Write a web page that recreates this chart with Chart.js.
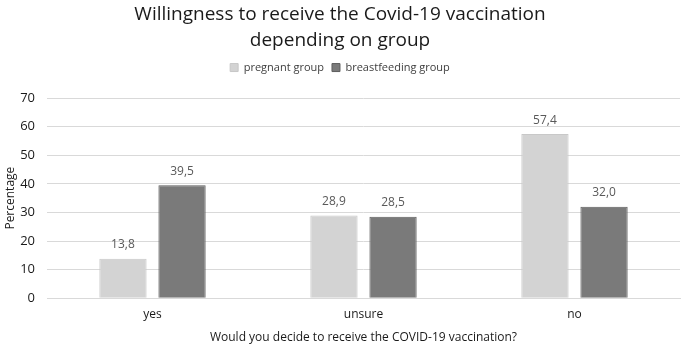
<!DOCTYPE html>
<html lang="en">
<head>
    <meta charset="UTF-8">
    <title>Willingness to receive the Covid-19 vaccination</title>
    <script src="https://cdn.jsdelivr.net/npm/chart.js"></script>
    <style>
        html, body { margin: 0; padding: 0; background: #fff; }
        #wrap { width: 685px; height: 348px; }
    </style>
</head>
<body>
    <div id="wrap"><canvas id="chart"></canvas></div>

    <script>
        // chart data
        const categories = ['yes', 'unsure', 'no'];
        const pregnant = [13.8, 28.9, 57.4];
        const breastfeeding = [39.5, 28.5, 32.0];
        const yTicks = [0, 10, 20, 30, 40, 50, 60, 70];

        const font = "'Open Sans', 'Noto Sans', sans-serif";

        // draws the value above each bar, with a comma as decimal mark
        const valueLabels = {
            id: 'valueLabels',
            afterDatasetsDraw(chart) {
                const ctx = chart.ctx;
                ctx.save();
                ctx.font = '12px ' + font;
                ctx.fillStyle = '#595959';
                ctx.textAlign = 'center';
                ctx.textBaseline = 'bottom';
                chart.data.datasets.forEach((ds, i) => {
                    chart.getDatasetMeta(i).data.forEach((bar, j) => {
                        const txt = ds.data[j].toFixed(1).replace('.', ',');
                        ctx.fillText(txt, bar.x, bar.y - 8);
                    });
                });
                ctx.restore();
            }
        };

        // extra room under the legend
        const legendGap = {
            id: 'legendGap',
            beforeInit(chart) {
                const fit = chart.legend.fit;
                chart.legend.fit = function () {
                    fit.bind(this)();
                    this.height += 15;
                };
            }
        };

        new Chart(document.getElementById('chart'), {
            type: 'bar',
            data: {
                labels: categories,
                datasets: [{
                    label: 'pregnant group',
                    data: pregnant,
                    backgroundColor: '#d3d3d3',
                    borderColor: '#c8c8c8',
                    borderWidth: 1
                }, {
                    label: 'breastfeeding group',
                    data: breastfeeding,
                    backgroundColor: '#7a7a7a',
                    borderColor: '#5e5e5e',
                    borderWidth: 1
                }]
            },
            options: {
                responsive: true,
                maintainAspectRatio: false,
                animation: false,
                categoryPercentage: 0.56,
                barPercentage: 0.8,
                layout: { padding: { left: 0, right: 5, top: 0, bottom: 3 } },
                plugins: {
                    title: {
                        display: true,
                        text: ['Willingness to receive the Covid-19 vaccination', 'depending on group'],
                        color: '#1a1a1a',
                        font: { family: font, size: 19, weight: 'normal', lineHeight: 1.37 },
                        padding: { top: 2, bottom: 0 }
                    },
                    legend: {
                        labels: {
                            color: '#404040',
                            font: { family: font, size: 11 },
                            boxWidth: 8,
                            boxHeight: 8,
                            padding: 8
                        }
                    },
                    tooltip: { enabled: false }
                },
                scales: {
                    x: {
                        grid: { display: false, drawTicks: false },
                        border: { color: '#d9d9d9' },
                        ticks: { color: '#1a1a1a', font: { family: font, size: 12 }, padding: 9 },
                        title: {
                            display: true,
                            text: 'Would you decide to receive the COVID-19 vaccination?',
                            color: '#1a1a1a',
                            font: { family: font, size: 12 },
                            padding: { top: 0, bottom: 0 }
                        }
                    },
                    y: {
                        min: 0,
                        max: 70,
                        afterBuildTicks(axis) {
                            axis.ticks = yTicks.map(v => ({ value: v }));
                        },
                        afterFit(axis) {
                            axis.width = 47;
                        },
                        grid: { color: '#d9d9d9', drawTicks: false },
                        border: { display: false },
                        ticks: { color: '#1a1a1a', font: { family: font, size: 13 }, padding: 12 },
                        title: {
                            display: true,
                            text: 'Percentage',
                            color: '#1a1a1a',
                            font: { family: font, size: 12 },
                            padding: { top: 3, bottom: 0 }
                        }
                    }
                }
            },
            plugins: [valueLabels, legendGap]
        });
    </script>
</body>
</html>
